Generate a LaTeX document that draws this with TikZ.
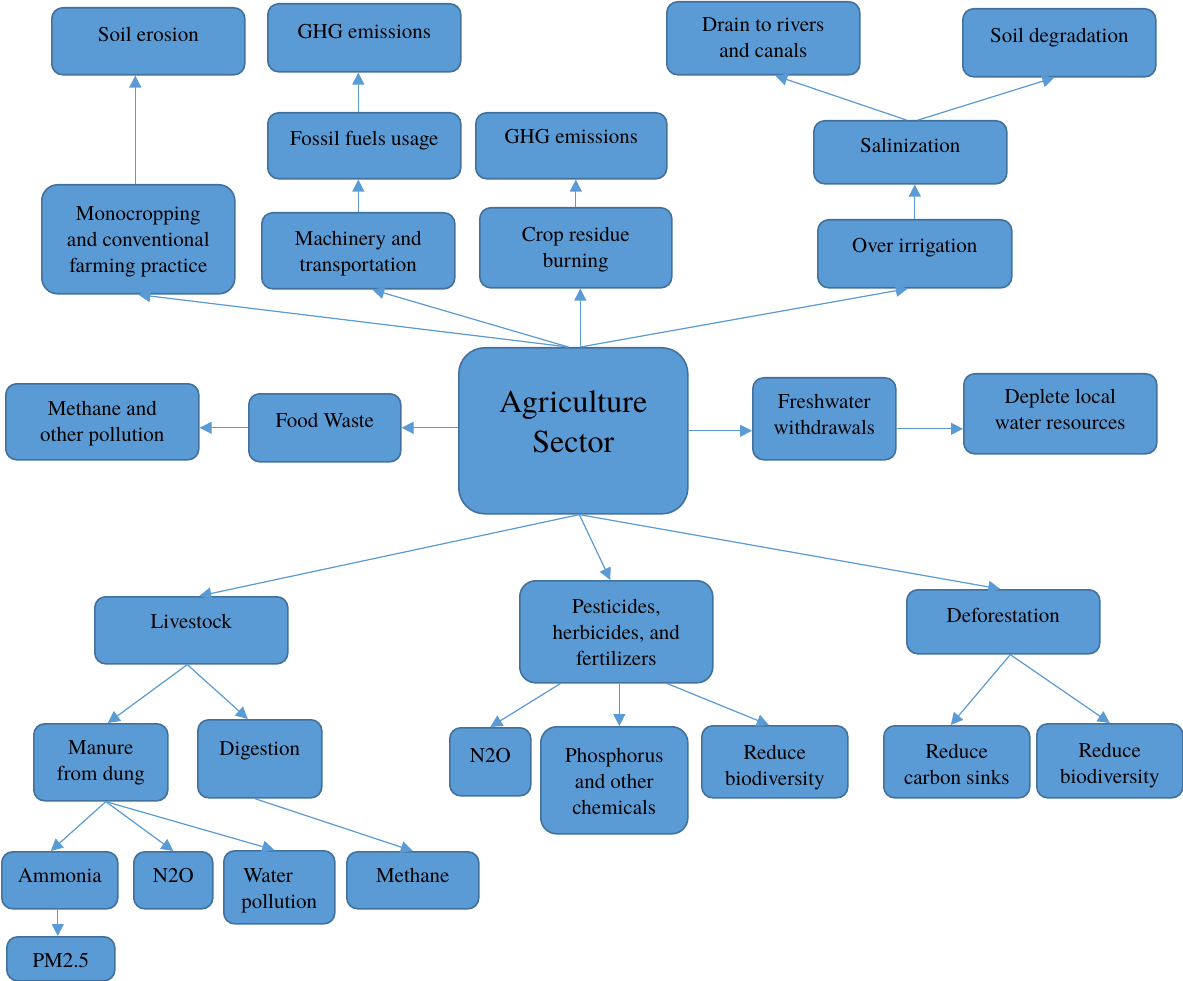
\documentclass[tikz,border=0pt]{standalone}
\usepackage{fontspec}
\setmainfont{texgyretermes}[Extension=.otf,UprightFont=*-regular,BoldFont=*-bold,ItalicFont=*-italic,BoldItalicFont=*-bolditalic]
\usetikzlibrary{arrows.meta}
\definecolor{boxfill}{HTML}{5B9BD5}
\definecolor{boxline}{HTML}{41719C}
\definecolor{arrowc}{HTML}{5B9BD5}
% box text: width, height, text placed at the top
\newcommand{\boxtxt}[4][34pt]{\parbox[c][#3][t]{#2}{\centering\rule{0pt}{#1}#4\par}}
\begin{document}
\begin{tikzpicture}[x=1pt,y=-1pt,>={Triangle[length=12pt,width=12pt]},
	blk/.style={draw=boxline,fill=boxfill,line width=1.6pt,rounded corners=11pt,inner sep=0pt,anchor=north west,font=\fontsize{21}{26}\selectfont},
	arr/.style={->,draw=arrowc,fill=arrowc,line width=1.2pt}]
	\useasboundingbox (0,0) rectangle (1183,981);
	% top row
	\node[blk] (soilero) at (51,7) {\boxtxt{193pt}{67pt}{Soil erosion}};
	\node[blk] (ghgtop) at (267,3) {\boxtxt[35pt]{193pt}{68pt}{GHG emissions}};
	\node[blk] (fossil) at (267,112) {\boxtxt[33pt]{193pt}{66pt}{Fossil fuels usage}};
	\node[blk] (ghgmid) at (475,112) {\boxtxt[31pt]{191pt}{66pt}{GHG emissions}};
	\node[blk] (drain) at (666,1) {\boxtxt[30pt]{193pt}{73pt}{Drain to rivers\\and canals}};
	\node[blk] (soildeg) at (962,8) {\boxtxt{193pt}{68pt}{Soil degradation}};
	\node[blk] (salin) at (813,120) {\boxtxt[32pt]{193pt}{63pt}{Salinization}};
	\node[blk,rounded corners=16pt] (mono) at (41,184) {\boxtxt[36pt]{193pt}{109pt}{Monocropping\\and conventional\\farming practice}};
	\node[blk] (mach) at (261,212) {\boxtxt[33pt]{193pt}{76pt}{Machinery and\\transportation}};
	\node[blk] (crop) at (479,207) {\boxtxt{192pt}{80pt}{Crop residue\\burning}};
	\node[blk] (overirr) at (817,219) {\boxtxt[33pt]{194pt}{68pt}{Over irrigation}};
	% middle row
	\node[blk,rounded corners=26pt,font=\fontsize{32}{40}\selectfont] (agri) at (458,347) {\boxtxt[65pt]{229pt}{166pt}{Agriculture\\Sector}};
	\node[blk] (methpol) at (5,383) {\boxtxt[32pt]{193pt}{76pt}{Methane and\\other pollution}};
	\node[blk] (food) at (248,393) {\boxtxt{152pt}{68pt}{Food Waste}};
	\node[blk] (fresh) at (752,377) {\boxtxt[31pt]{143pt}{82pt}{Freshwater\\withdrawals}};
	\node[blk] (deplete) at (963,373) {\boxtxt[30pt]{193pt}{80pt}{Deplete local\\water resources}};
	% lower part
	\node[blk] (livestock) at (94,596) {\boxtxt[32pt]{193pt}{67pt}{Livestock}};
	\node[blk,rounded corners=16pt] (pest) at (519,580) {\boxtxt[33pt]{193pt}{102pt}{Pesticides,\\herbicides, and\\fertilizers}};
	\node[blk] (defor) at (906,589) {\boxtxt[33pt]{193pt}{64pt}{Deforestation}};
	\node[blk] (manure) at (33,723) {\boxtxt[31pt]{134pt}{77pt}{Manure\\from dung}};
	\node[blk] (digest) at (197,719) {\boxtxt[36pt]{124pt}{78pt}{Digestion}};
	\node[blk] (ntwo) at (449,727) {\boxtxt[35pt]{81pt}{68pt}{N2O}};
	\node[blk,rounded corners=16pt] (phos) at (540,726) {\boxtxt[36pt]{147pt}{107pt}{Phosphorus\\and other\\chemicals}};
	\node[blk] (redbio) at (701,725) {\boxtxt{146pt}{72pt}{Reduce\\biodiversity}};
	\node[blk] (redcarb) at (883,725) {\boxtxt[33pt]{146pt}{72pt}{Reduce\\carbon sinks}};
	\node[blk] (redbiob) at (1036,723) {\boxtxt{146pt}{74pt}{Reduce\\biodiversity}};
	\node[blk] (ammonia) at (1,851) {\boxtxt[31pt]{116pt}{57pt}{Ammonia}};
	\node[blk] (ntwob) at (133,851) {\boxtxt[31pt]{79pt}{57pt}{N2O}};
	\node[blk] (water) at (223,850) {\boxtxt[32pt]{111pt}{73pt}{\makebox[72pt][l]{Water}\\pollution}};
	\node[blk] (methane) at (346,851) {\boxtxt[31pt]{132pt}{57pt}{Methane}};
	\node[blk] (pm) at (6,936) {\boxtxt[31pt]{108pt}{44pt}{PM2.5}};
	% arrows from the sector
	\draw[arr] ([xshift=-5pt]agri.north) -- (mono.south);
	\draw[arr] ([xshift=-5pt]agri.north) -- ([xshift=14pt]mach.south);
	\draw[arr] ([xshift=7pt]agri.north) -- ([xshift=7pt]agri.north |- crop.south);
	\draw[arr] ([xshift=7pt]agri.north) -- ([xshift=-7pt]overirr.south);
	\draw[arr] ([yshift=3pt]agri.west) -- (food.east);
	\draw[arr] (agri.east) -- (agri.east -| fresh.west);
	\draw[arr] ([xshift=6pt]agri.south) -- ([xshift=8pt]livestock.north);
	\draw[arr] ([xshift=6pt]agri.south) -- ([xshift=-6pt]pest.north);
	\draw[arr] ([xshift=6pt]agri.south) -- ([xshift=-3pt]defor.north);
	% upper chains
	\draw[arr] ([xshift=-3pt]mono.north) -- ([xshift=-3pt]mono.north |- soilero.south);
	\draw[arr] (mach.north) -- (mach.north |- fossil.south);
	\draw[arr] (mach.north |- fossil.north) -- (mach.north |- ghgtop.south);
	\draw[arr] (crop.north) -- (crop.north |- ghgmid.south);
	\draw[arr] (overirr.north) -- (overirr.north |- salin.south);
	\draw[arr] ([xshift=-4pt]salin.north) -- ([xshift=12pt]drain.south);
	\draw[arr] ([xshift=8pt]salin.north) -- ([xshift=-5pt]soildeg.south);
	% side chains
	\draw[arr] (food.west) -- (food.west -| methpol.east);
	\draw[arr] ([yshift=-10pt]fresh.east) -- ([yshift=-10pt]fresh.east -| deplete.west);
	% livestock
	\draw[arr] ([xshift=-4pt]livestock.south) -- ([xshift=7pt]manure.north);
	\draw[arr] ([xshift=-4pt]livestock.south) -- ([xshift=-12pt]digest.north);
	\draw[arr] ([xshift=5pt]manure.south) -- ([xshift=-9pt]ammonia.north);
	\draw[arr] ([xshift=5pt]manure.south) -- (ntwob.north);
	\draw[arr] ([xshift=5pt]manure.south) -- ([xshift=-5pt]water.north);
	\draw[arr] ([xshift=-5pt]digest.south) -- (methane.north);
	\draw[arr] ([xshift=-2pt]ammonia.south) -- ([xshift=-2pt]ammonia.south |- pm.north);
	% pesticides and deforestation
	\draw[arr] ([xshift=-56pt]pest.south) -- (ntwo.north);
	\draw[arr] ([xshift=3pt]pest.south) -- ([xshift=3pt]pest.south |- phos.north);
	\draw[arr] ([xshift=51pt]pest.south) -- ([xshift=-6pt]redbio.north);
	\draw[arr] ([xshift=7pt]defor.south) -- ([xshift=-6pt]redcarb.north);
	\draw[arr] ([xshift=7pt]defor.south) -- (redbiob.north);
\end{tikzpicture}
\end{document}
